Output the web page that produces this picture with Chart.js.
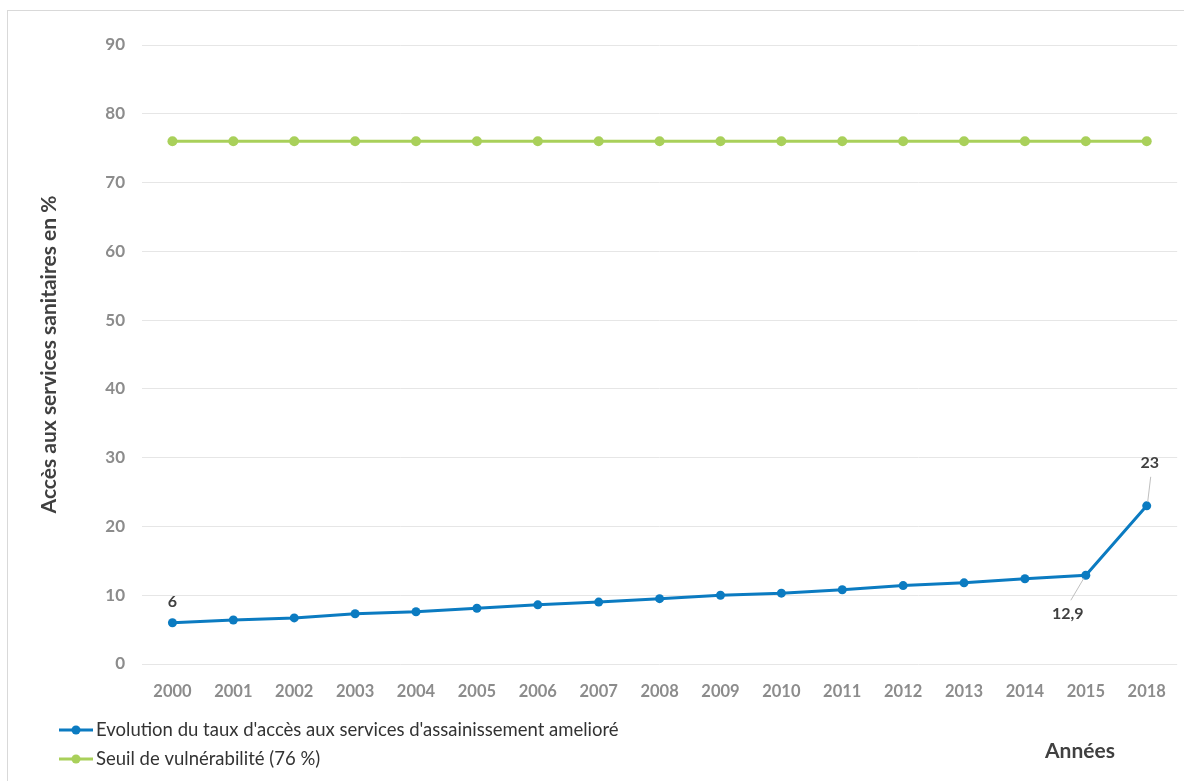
<!DOCTYPE html>
<html><head><meta charset="utf-8">
<script src="https://cdn.jsdelivr.net/npm/chart.js@4"></script>
<style>html,body{margin:0;padding:0;background:#fff}canvas{display:block}</style>
</head><body>
<canvas id="c" width="1184" height="781"></canvas>
<script>
const years = ['2000','2001','2002','2003','2004','2005','2006','2007','2008','2009','2010','2011','2012','2013','2014','2015','2018'];
const accessRates = [6, 6.4, 6.7, 7.3, 7.6, 8.1, 8.6, 9.0, 9.5, 10.0, 10.3, 10.8, 11.4, 11.8, 12.4, 12.9, 23];
const thresholdValues = [76, 76, 76, 76, 76, 76, 76, 76, 76, 76, 76, 76, 76, 76, 76, 76, 76];
const seriesLabels = ["Evolution du taux d'accès aux services d'assainissement amelioré", "Seuil de vulnérabilité (76 %)"];
const yMin = 0, yMax = 90, yStep = 10;
const yAxisTitle = 'Accès aux services sanitaires en %';
const xAxisTitle = 'Années';
const labelledIndices = [0, 15, 16];

const FONT = 'Lato, "Open Sans", sans-serif';
const BLUE = '#0b7bc1', GREEN = '#a9d05a';

const fmt = v => String(v).replace('.', ',');

const labelPlacement = {
  0:  {dx: 0,   dy: -21, leader: null},
  15: {dx: -18, dy: 39,  leader: [-2, 3, -15, 25]},
  16: {dx: 3,   dy: -43, leader: [1, -4, 4, -29]}
};

const framePlugin = {
  id: 'frame',
  beforeDraw(chart) {
    const ctx = chart.ctx;
    ctx.save();
    ctx.fillStyle = '#fff';
    ctx.fillRect(0, 0, chart.width, chart.height);
    ctx.strokeStyle = '#d9d9d9';
    ctx.lineWidth = 1;
    ctx.strokeRect(7.5, 10.5, 1200, 800);
    ctx.restore();
  }
};

const valueLabelPlugin = {
  id: 'valueLabels',
  afterDatasetsDraw(chart) {
    const ctx = chart.ctx;
    const meta = chart.getDatasetMeta(0);
    const data = chart.data.datasets[0].data;
    ctx.save();
    labelledIndices.forEach(i => {
      const pt = meta.data[i];
      const p = labelPlacement[i];
      if (p.leader) {
        ctx.strokeStyle = '#bfbfbf';
        ctx.lineWidth = 1;
        ctx.beginPath();
        ctx.moveTo(pt.x + p.leader[0], pt.y + p.leader[1]);
        ctx.lineTo(pt.x + p.leader[2], pt.y + p.leader[3]);
        ctx.stroke();
      }
      ctx.fillStyle = '#404040';
      ctx.font = 'bold 16px ' + FONT;
      ctx.textAlign = 'center';
      ctx.textBaseline = 'middle';
      ctx.fillText(fmt(data[i]), pt.x + p.dx, pt.y + p.dy);
    });
    ctx.restore();
  }
};

const legendPlugin = {
  id: 'customLegend',
  afterDraw(chart) {
    const ctx = chart.ctx;
    ctx.save();
    chart.data.datasets.forEach((ds, i) => {
      const y = 730 + i * 29;
      ctx.strokeStyle = ds.borderColor;
      ctx.lineWidth = 3;
      ctx.beginPath();
      ctx.moveTo(59, y);
      ctx.lineTo(93, y);
      ctx.stroke();
      ctx.fillStyle = ds.borderColor;
      ctx.beginPath();
      ctx.arc(76, y, 4.5, 0, Math.PI * 2);
      ctx.fill();
      ctx.fillStyle = '#333';
      ctx.font = '18.5px ' + FONT;
      ctx.textAlign = 'left';
      ctx.textBaseline = 'middle';
      ctx.fillText(ds.label, 96, y);
    });
    ctx.fillStyle = '#404040';
    ctx.font = 'bold 21px ' + FONT;
    ctx.textAlign = 'center';
    ctx.textBaseline = 'middle';
    ctx.fillText(xAxisTitle, 1080, 751);
    ctx.restore();
  }
};

new Chart(document.getElementById('c'), {
  type: 'line',
  data: {
    labels: years,
    datasets: [
      {label: seriesLabels[0], data: accessRates, borderColor: BLUE, backgroundColor: BLUE,
       borderWidth: 3, pointRadius: 4.5, pointBackgroundColor: BLUE, pointBorderWidth: 0, tension: 0},
      {label: seriesLabels[1], data: thresholdValues, borderColor: GREEN, backgroundColor: GREEN,
       borderWidth: 3, pointRadius: 5, pointBackgroundColor: GREEN, pointBorderWidth: 0, tension: 0}
    ]
  },
  options: {
    responsive: false,
    animation: false,
    devicePixelRatio: 1,
    layout: {padding: {left: 30, top: 45, right: 3, bottom: 0}},
    plugins: {legend: {display: false}, tooltip: {enabled: false}},
    scales: {
      x: {
        type: 'category',
        offset: true,
        grid: {display: false, drawTicks: false},
        border: {display: false},
        ticks: {color: '#8c8c8c', font: {family: FONT, size: 16.5, weight: 'bold'}, padding: 18, maxRotation: 0, autoSkip: false},
        afterFit: s => { s.height = 117; }
      },
      y: {
        min: yMin, max: yMax,
        ticks: {stepSize: yStep, color: '#8c8c8c', font: {family: FONT, size: 17, weight: 'bold'}, padding: 17},
        grid: {color: '#e6e6e6', drawTicks: false},
        border: {display: false},
        title: {display: true, text: yAxisTitle, color: '#404040', font: {family: FONT, size: 21, weight: 'bold'}, padding: {top: 7, bottom: 0}},
        afterFit: s => { s.width = 112; }
      }
    }
  },
  plugins: [framePlugin, valueLabelPlugin, legendPlugin]
});
</script>
</body></html>
